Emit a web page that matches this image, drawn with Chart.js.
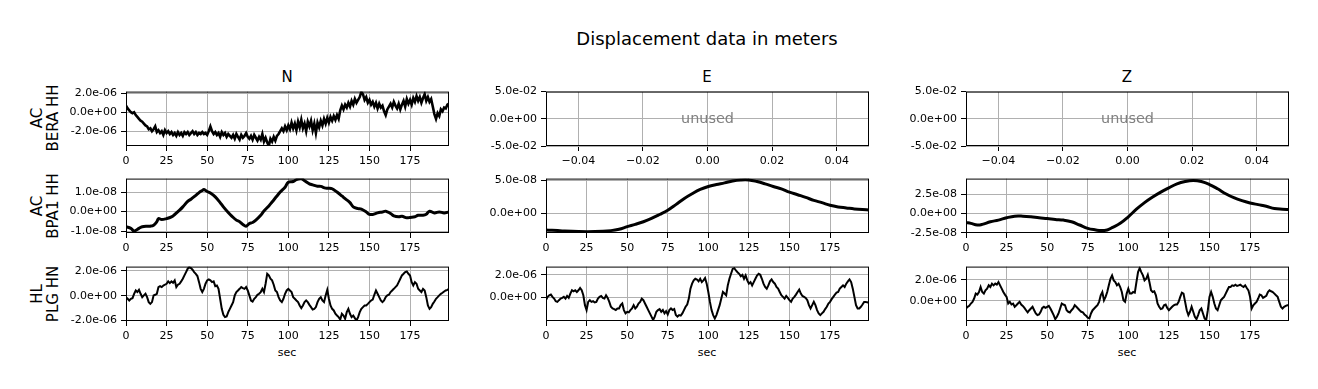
<!DOCTYPE html>
<html>
<head>
<meta charset="utf-8">
<script src="https://cdn.jsdelivr.net/npm/chart.js@4.4.1/dist/chart.umd.min.js"></script>
<style>
  body { margin: 0; background: #fff; }
  #fig { position: relative; width: 1318px; height: 389px; background: #fff; overflow: hidden;
         font-family: "DejaVu Sans", sans-serif; color: #000; }
  .panel { position: absolute; }
  .txt { position: absolute; white-space: nowrap; line-height: 1; transform: translate(-50%, -50%); }
  .rowlab { position: absolute; white-space: nowrap; text-align: center; font-size: 15px; line-height: 16px;
            transform: translate(-50%, -50%) rotate(-90deg); }
</style>
</head>
<body>
<div id="fig">
  <div class="txt" style="left:707px;top:39px;font-size:18px">Displacement data in meters</div>
  <div class="txt" style="left:287px;top:77px;font-size:15px">N</div>
  <div class="txt" style="left:707px;top:77px;font-size:15px">E</div>
  <div class="txt" style="left:1127px;top:77px;font-size:15px">Z</div>
  <div class="rowlab" style="left:45px;top:118px">AC<br>BERA HH</div>
  <div class="rowlab" style="left:45px;top:206px">AC<br>BPA1 HH</div>
  <div class="rowlab" style="left:45px;top:294px">HL<br>PLG HN</div>
  <div class="txt" style="left:287px;top:352px;font-size:11px">sec</div>
  <div class="txt" style="left:707px;top:352px;font-size:11px">sec</div>
  <div class="txt" style="left:1127px;top:352px;font-size:11px">sec</div>
</div>
<script>
// traces (1 reading per second unless a time list is given)
const beraN = [ // x1e-6
  0.7,0.4,0.2,0.0,-0.1,0.0,-0.3,-0.5,-0.7,-0.9,
  -1.0,-1.2,-1.4,-1.5,-1.8,-1.7,-2.0,-1.8,-1.5,-2.1,
  -1.9,-2.2,-2.0,-2.4,-1.9,-2.2,-2.0,-2.3,-2.1,-2.4,
  -2.2,-2.5,-2.1,-2.4,-2.2,-2.5,-2.1,-2.3,-2.1,-2.4,
  -2.2,-2.0,-2.3,-2.1,-2.4,-2.2,-2.3,-2.1,-2.3,-2.2,
  -2.4,-2.0,-1.5,-2.0,-2.3,-2.1,-2.4,-2.2,-2.6,-2.1,
  -2.4,-2.2,-2.6,-2.3,-2.5,-2.7,-2.4,-2.8,-2.3,-2.6,
  -2.9,-2.4,-2.7,-2.5,-2.2,-2.6,-2.8,-2.5,-2.9,-2.4,
  -2.7,-3.0,-2.6,-2.9,-2.3,-3.1,-2.7,-3.2,-3.55,-2.8,
  -3.1,-2.6,-3.0,-2.5,-2.3,-2.0,-1.7,-2.0,-1.5,-1.9,
  -1.4,-1.8,-1.1,-1.7,-1.2,-1.9,-1.0,-1.6,-0.8,-1.7,
  -1.2,-2.0,-1.0,-1.5,-0.9,-1.9,-1.2,-2.2,-1.1,-1.6,
  -0.9,-1.4,-0.7,-1.2,-0.6,-1.1,-0.5,-0.9,-0.4,-0.8,
  -0.3,-0.7,0.2,0.7,0.3,0.8,0.5,1.0,0.6,1.2,
  0.8,1.4,1.0,1.3,1.6,2.15,1.9,1.3,1.6,1.0,
  1.3,0.8,1.1,0.6,1.0,0.4,0.9,0.5,0.7,0.1,
  -0.3,0.3,0.6,0.9,0.5,1.1,0.7,0.4,0.9,0.3,
  0.8,1.2,0.6,1.4,0.9,1.3,0.8,1.5,1.1,1.7,
  1.2,1.6,1.0,1.5,1.9,1.2,1.6,1.1,1.4,0.6,
  -0.2,-0.7,-0.1,-0.4,0.3,0.1,0.5,0.4,0.8,0.9
];
const bpa1NTime = [0,3,5,8,10,13,15,17,19,20,22,25,28,30,33,35,38,40,43,45,47,48,50,52,55,58,60,63,65,68,
  70,72,74,76,78,80,83,85,88,90,93,95,98,100,103,105,108,110,113,115,118,120,123,125,127,130,133,135,138,140,
  143,145,148,150,152,155,158,160,163,165,168,170,173,175,178,180,183,185,187,190,193,196,199];
const bpa1N = [ // x1e-8
  -0.78,-0.86,-1.0,-0.86,-0.78,-0.75,-0.75,-0.7,-0.52,-0.36,-0.41,-0.36,-0.27,-0.15,0.07,
  0.24,0.52,0.63,0.83,0.97,1.08,1.13,1.03,0.95,0.75,0.46,0.24,-0.05,-0.22,-0.44,
  -0.52,-0.66,-0.75,-0.61,-0.56,-0.44,-0.19,0.03,0.29,0.49,0.8,1.0,1.25,1.5,1.54,
  1.64,1.68,1.58,1.42,1.37,1.3,1.29,1.2,1.2,1.17,1.0,0.8,0.66,0.46,0.24,
  0.15,0.12,-0.02,-0.14,-0.15,-0.07,-0.02,0.02,-0.1,-0.22,-0.27,-0.24,-0.32,-0.3,-0.27,
  -0.19,-0.19,-0.14,0.02,-0.07,-0.02,-0.07,-0.02
];
const plgN = [ // x1e-6
  -0.11,-0.24,-0.38,-0.24,-0.19,0.16,0.43,0.30,0.48,0.16,
  -0.11,0.03,0.16,-0.11,-0.51,-0.65,-0.51,0.03,0.08,0.16,
  0.70,0.78,0.70,0.83,0.89,0.97,1.16,1.02,1.16,1.05,
  1.24,0.70,0.89,0.97,1.16,1.37,1.64,1.91,2.18,2.31,
  2.23,2.10,1.91,1.77,1.59,1.10,0.56,0.30,0.56,0.97,
  1.24,1.32,1.24,1.10,1.16,0.78,0.83,0.56,-0.24,-1.05,
  -1.53,-1.72,-1.67,-1.32,-1.05,-0.78,-0.51,0.03,0.30,0.43,
  0.56,0.70,0.62,0.56,0.70,0.43,0.03,-0.38,-0.46,-0.24,
  -0.11,0.08,0.16,0.30,0.56,0.30,0.97,1.77,1.64,1.37,
  1.24,0.89,0.43,0.30,-0.11,-0.38,-0.51,-0.24,0.16,0.43,
  0.56,0.43,0.30,-0.11,-0.24,-0.38,-0.51,-0.78,-0.99,-0.78,
  -0.51,-0.38,-0.51,-0.73,-0.91,-1.10,-1.05,-0.91,-0.51,-0.24,
  -0.11,-0.38,-0.51,0.03,0.48,-0.24,-0.78,-1.05,-1.18,-1.45,
  -1.59,-1.72,-1.91,-1.45,-1.59,-1.85,-1.32,-1.05,-1.45,-1.72,
  -1.59,-1.80,-1.99,-1.72,-1.32,-1.05,-0.91,-0.78,-0.78,-0.65,
  -0.51,-0.38,-0.30,0.08,0.43,0.16,-0.11,-0.38,-0.51,-0.38,
  -0.11,0.03,0.08,0.30,0.43,0.56,0.70,0.83,1.10,1.37,
  1.64,1.77,1.91,1.96,1.77,1.64,1.10,0.83,1.10,0.97,
  0.56,0.43,0.30,0.56,0.43,-0.11,-0.78,-1.05,-0.91,-0.65,
  -0.46,-0.24,-0.11,0.03,0.16,0.24,0.35,0.43,0.48,0.56
];
const bpa1ETime = [0,10,20,30,40,45,50,55,60,65,70,75,80,85,90,95,100,105,110,115,120,125,130,135,140,
  145,150,155,160,165,170,175,180,185,190,195,199];
const bpa1E = [ // x1e-8
  -2.5,-2.65,-2.75,-2.75,-2.6,-2.4,-2.0,-1.65,-1.25,-0.75,-0.15,0.5,1.35,2.25,3.0,3.65,4.1,4.4,4.65,4.95,
  5.1,5.1,4.85,4.5,4.1,3.75,3.25,2.85,2.45,2.0,1.65,1.25,1.0,0.85,0.7,0.6,0.55
];
const plgE = [ // x1e-6
  -0.23,0.06,0.20,0.26,0.06,-0.09,-0.32,-0.38,-0.23,-0.09,
  -0.03,0.06,-0.09,0.14,-0.03,0.35,0.64,0.55,0.64,0.49,
  0.64,0.84,0.64,0.20,-0.67,-1.10,-0.38,-0.23,-0.38,-0.32,
  -0.43,-0.38,-0.09,0.06,0.14,-0.03,-0.09,0.20,-0.03,-0.38,
  -0.81,-0.96,-1.01,-1.10,-0.96,-0.96,-0.67,-0.52,-1.10,-1.39,
  -1.25,-1.30,-1.10,-0.96,-0.67,-0.96,-0.81,-0.52,-0.38,-0.09,
  -0.23,-0.52,-0.81,-1.10,-1.39,-1.68,-1.97,-1.68,-1.25,-1.10,
  -1.01,-1.25,-1.10,-1.39,-1.19,-1.48,-1.10,-0.96,-1.10,-1.01,
  -1.54,-1.68,-1.54,-1.59,-1.39,-1.10,-0.81,-0.61,-0.09,0.78,
  1.22,1.51,1.65,1.59,1.42,1.65,1.36,1.51,1.71,1.22,
  0.49,-0.38,-1.10,-1.54,-1.83,-1.54,-1.10,-0.67,-0.09,0.49,
  0.35,0.20,1.07,1.65,2.09,2.52,2.58,2.38,2.23,2.09,
  1.88,2.00,1.65,1.94,1.51,1.22,1.36,1.07,1.36,1.65,
  1.94,2.09,2.00,1.65,1.22,0.93,0.78,1.07,1.42,1.59,
  1.36,1.22,0.93,0.78,0.49,0.20,0.06,-0.09,0.14,-0.03,
  -0.23,-0.38,-0.09,0.06,0.26,0.49,0.70,0.35,0.14,0.06,
  -0.03,-0.23,-0.67,-0.96,-0.67,-0.38,-0.67,-1.10,-1.39,-1.54,
  -1.39,-1.25,-1.01,-0.81,-0.52,-0.38,-0.14,0.06,0.26,0.43,
  0.49,0.78,0.93,1.07,0.93,1.22,1.42,1.59,1.36,0.78,
  0.06,-0.67,-0.96,-0.96,-0.81,-0.61,-0.38,-0.38,-0.43,-0.38
];
const bpa1ZTime = [0,3,7,10,15,20,25,30,35,40,45,50,55,60,65,70,75,80,83,87,90,95,100,105,110,115,120,125,
  130,135,140,145,150,155,160,165,170,175,180,185,190,195,199];
const bpa1Z = [ // x1e-8
  -1.14,-1.27,-1.48,-1.4,-1.06,-0.85,-0.55,-0.34,-0.34,-0.42,-0.55,-0.64,-0.76,-0.85,-1.06,
  -1.48,-1.91,-2.12,-2.2,-2.12,-1.82,-1.27,-0.42,0.55,1.4,2.12,2.75,3.3,3.81,4.11,
  4.24,4.11,3.73,3.18,2.54,2.03,1.65,1.36,1.14,0.93,0.64,0.55,0.51
];
const plgZ = [ // x1e-6
  -0.72,-0.56,-0.47,-0.25,-0.09,0.22,0.69,0.59,0.84,1.31,
  0.84,0.69,1.00,1.16,1.47,1.31,1.63,1.47,1.63,1.53,
  1.78,1.47,1.16,0.84,0.59,0.38,-0.25,-0.09,-0.34,-0.25,
  -0.56,-0.41,-0.25,-0.09,-0.34,-0.47,-0.66,-0.88,-1.09,-0.88,
  -0.72,-0.56,-0.88,-1.19,-1.34,-1.28,-1.03,-0.66,-0.56,-0.66,
  -0.56,-0.47,-0.72,-1.03,-1.34,-1.72,-1.50,-1.19,-0.72,-0.25,
  -0.34,-0.41,-0.88,-1.03,-1.09,-0.88,-0.72,-0.41,-0.56,-0.72,
  -0.88,-1.03,-1.09,-1.28,-1.41,-1.59,-1.66,-1.19,-0.88,-0.72,
  -0.56,-0.41,-0.09,0.53,0.84,0.06,0.38,0.84,1.47,2.09,
  2.41,1.94,1.78,1.47,1.63,1.31,0.84,0.06,-0.09,0.69,
  1.16,0.69,0.69,0.84,0.78,1.78,2.72,3.09,2.72,2.41,
  1.94,2.09,2.47,1.78,1.00,0.84,0.91,0.53,-0.25,-0.56,
  -0.78,-0.72,-0.41,-0.34,-0.66,-0.88,-0.72,-0.56,-0.41,-0.34,
  -0.34,-0.09,0.38,0.78,0.69,-0.09,-0.88,-1.34,-1.03,-0.56,
  -1.03,-1.50,-1.72,-1.34,-0.88,-0.72,-1.19,-1.66,-1.81,-0.88,
  0.38,0.84,0.38,-0.25,-0.72,-0.88,-0.41,0.06,0.22,0.38,
  0.69,1.00,1.31,1.31,1.47,1.41,1.53,1.41,1.47,1.53,
  1.41,1.31,1.47,1.22,1.00,0.38,-0.72,-0.41,-0.25,-0.09,
  0.22,0.59,0.53,0.28,0.38,0.47,0.84,1.00,0.91,0.84,
  0.69,0.53,0.38,-0.09,-0.56,-0.72,-0.56,-0.47,-0.41,-0.41
];

// tick labels
const secTicks = [0, 25, 50, 75, 100, 125, 150, 175];
const unusedTicks = [-0.04, -0.02, 0, 0.02, 0.04];
const unusedYTicks = [-0.05, 0, 0.05];

// layout
const colLeft = [126, 546, 966];
const rowTop = [91, 178, 266];
const plotW = 323, plotH = 55;
const yW = 90, padTop = 10, xH = 26, padR = 20;

Chart.defaults.font.family = '"DejaVu Sans", sans-serif';
Chart.defaults.font.size = 11;
Chart.defaults.color = '#000';

function sci(v) {
  return v.toExponential(1).replace(/e([+-])(\d)$/, (m, sg, d) => 'e' + sg + '0' + d);
}
function fix2(v) {
  return v.toFixed(2).replace('-', '\u2212');
}
function secs(n) {
  const t = [];
  for (let i = 0; i < n; i++) t.push(i);
  return t;
}

const frame = {
  id: 'frame',
  afterDraw(chart) {
    const a = chart.chartArea, c = chart.ctx;
    c.save();
    c.strokeStyle = '#000';
    c.lineWidth = 1;
    c.strokeRect(a.left + 0.5, a.top + 0.5, a.right - a.left - 1, a.bottom - a.top - 1);
    if (chart.options.plugins.frame && chart.options.plugins.frame.unused) {
      c.fillStyle = '#808080';
      c.font = '14.4px "DejaVu Sans"';
      c.textAlign = 'center';
      c.textBaseline = 'middle';
      c.fillText('unused', (a.left + a.right) / 2, (a.top + a.bottom) / 2);
    }
    c.restore();
  }
};

function axis(min, max, ticks, fmt, fitFn) {
  return {
    type: 'linear', min: min, max: max,
    afterBuildTicks: s => { s.ticks = ticks.map(v => ({ value: v })); },
    afterFit: fitFn,
    ticks: { autoSkip: false, maxRotation: 0, padding: 4, callback: fmt },
    grid: { color: '#b0b0b0', lineWidth: 1, tickColor: '#000', tickLength: 5 },
    border: { display: false }
  };
}

function panel(row, col, opts) {
  const div = document.createElement('div');
  div.className = 'panel';
  div.style.left = (colLeft[col] - yW) + 'px';
  div.style.top = (rowTop[row] - padTop) + 'px';
  const cv = document.createElement('canvas');
  cv.width = yW + plotW + padR;
  cv.height = padTop + plotH + xH;
  div.appendChild(cv);
  document.getElementById('fig').appendChild(div);

  let datasets = [];
  if (opts.values) {
    const t = opts.times || secs(opts.values.length);
    datasets.push({
      data: opts.values.map((v, i) => ({ x: t[i], y: v * opts.unit })),
      borderColor: '#000', borderWidth: opts.width || 2, pointRadius: 0,
      tension: opts.smooth ? 0.4 : 0, clip: 0
    });
  }
  new Chart(cv, {
    type: 'line',
    data: { datasets: datasets },
    options: {
      responsive: false, animation: false, events: [],
      layout: { padding: { top: padTop, right: padR, left: 0, bottom: 0 } },
      plugins: { legend: { display: false }, tooltip: { enabled: false }, frame: { unused: !opts.values } },
      scales: {
        x: opts.values
          ? axis(0, 199, secTicks, v => String(v), s => { s.height = xH; })
          : axis(-0.05, 0.05, unusedTicks, fix2, s => { s.height = xH; }),
        y: axis(opts.yMin, opts.yMax, opts.yTicks, sci, s => { s.width = yW; })
      }
    },
    plugins: [frame]
  });
}

panel(0, 0, { values: beraN, unit: 1e-6, yMin: -3.57e-6, yMax: 2.18e-6, yTicks: [-2e-6, 0, 2e-6], width: 2.6 });
panel(0, 1, { yMin: -0.05, yMax: 0.05, yTicks: unusedYTicks });
panel(0, 2, { yMin: -0.05, yMax: 0.05, yTicks: unusedYTicks });
panel(1, 0, { values: bpa1N, times: bpa1NTime, unit: 1e-8, yMin: -1.10e-8, yMax: 1.69e-8, yTicks: [-1e-8, 0, 1e-8], width: 3, smooth: true });
panel(1, 1, { values: bpa1E, times: bpa1ETime, unit: 1e-8, yMin: -2.96e-8, yMax: 5.3e-8, yTicks: [0, 5e-8], width: 3, smooth: true });
panel(1, 2, { values: bpa1Z, times: bpa1ZTime, unit: 1e-8, yMin: -2.51e-8, yMax: 4.49e-8, yTicks: [-2.5e-8, 0, 2.5e-8], width: 3, smooth: true });
panel(2, 0, { values: plgN, unit: 1e-6, yMin: -2.03e-6, yMax: 2.35e-6, yTicks: [-2e-6, 0, 2e-6], width: 2 });
panel(2, 1, { values: plgE, unit: 1e-6, yMin: -2.06e-6, yMax: 2.72e-6, yTicks: [0, 2e-6], width: 2 });
panel(2, 2, { values: plgZ, unit: 1e-6, yMin: -1.90e-6, yMax: 3.24e-6, yTicks: [0, 2e-6], width: 2 });
</script>
</body>
</html>
